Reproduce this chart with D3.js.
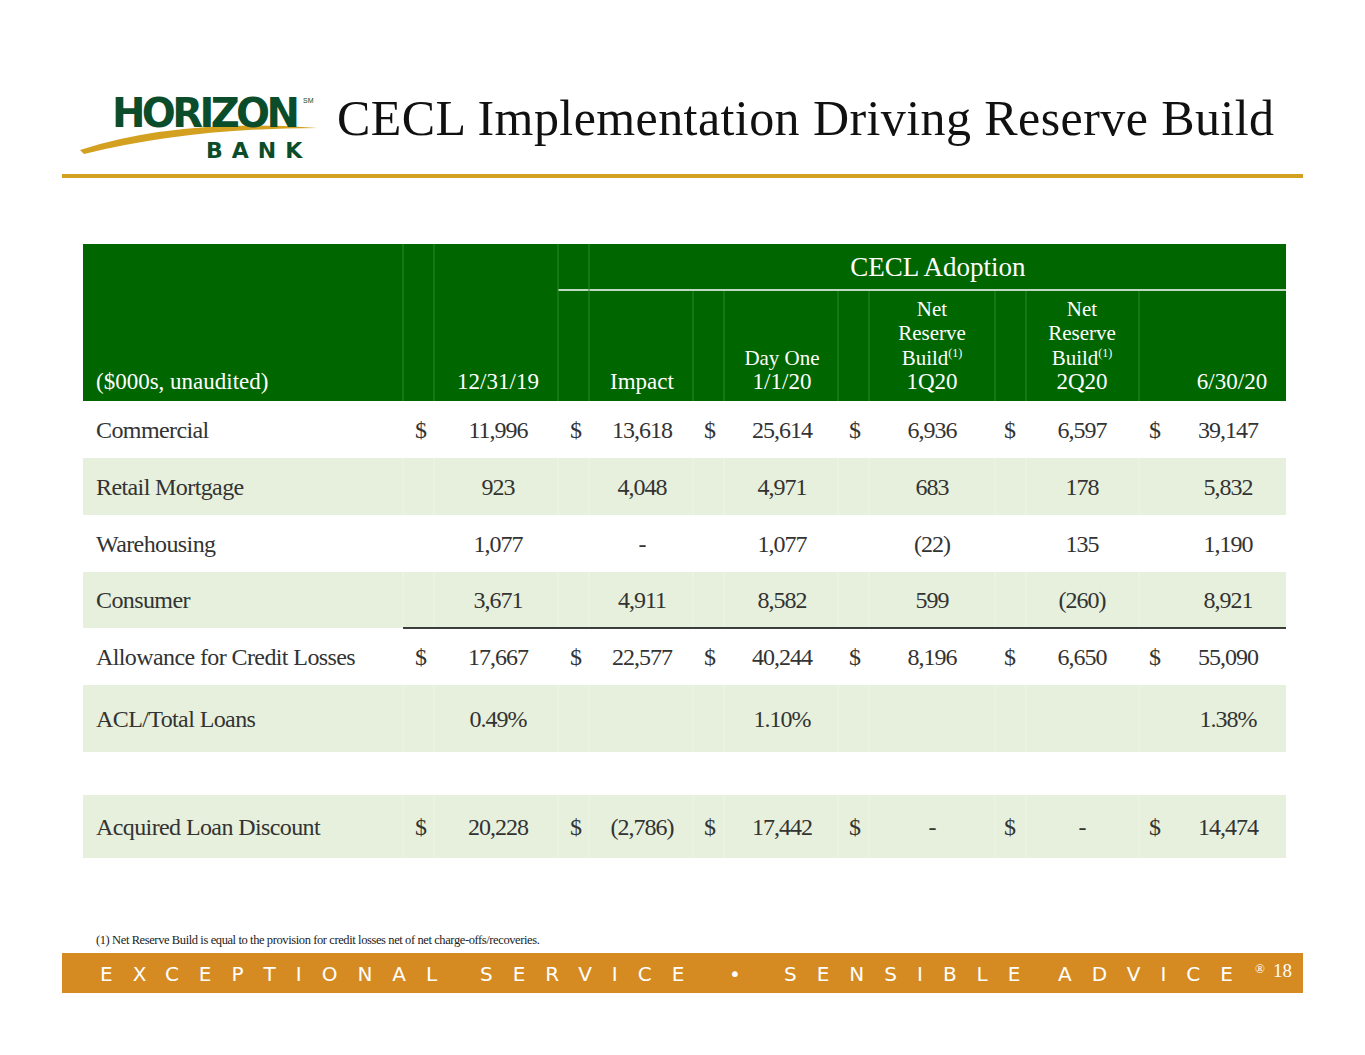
<!DOCTYPE html>
<html><head><meta charset="utf-8">
<script src="https://cdn.jsdelivr.net/npm/d3@7"></script>
<style>body{margin:0;background:#fff}</style></head>
<body><div id="chart"></div>
<script>
const GREEN = "#006600", LIGHT = "#E6F0DC", GOLD = "#D4A020", ORANGE = "#D58B22";

const columns = ["12/31/19", "Impact", "Day One 1/1/20", "Net Reserve Build 1Q20", "Net Reserve Build 2Q20", "6/30/20"];
const rowLabels = ["Commercial", "Retail Mortgage", "Warehousing", "Consumer", "Allowance for Credit Losses", "ACL/Total Loans", "", "Acquired Loan Discount"];
const rowValues = [
  ["11,996", "13,618", "25,614", "6,936", "6,597", "39,147"],
  ["923", "4,048", "4,971", "683", "178", "5,832"],
  ["1,077", "-", "1,077", "(22)", "135", "1,190"],
  ["3,671", "4,911", "8,582", "599", "(260)", "8,921"],
  ["17,667", "22,577", "40,244", "8,196", "6,650", "55,090"],
  ["0.49%", "", "1.10%", "", "", "1.38%"],
  ["", "", "", "", "", ""],
  ["20,228", "(2,786)", "17,442", "-", "-", "14,474"]
];
const dollarRows = [true, false, false, false, true, false, false, true];
const rowTops = [401, 458, 515, 572, 628, 685, 752, 795, 858];
const footerWords = [["EXCEPTIONAL", 100], ["SERVICE", 480], ["•", 729], ["SENSIBLE", 784], ["ADVICE", 1058]];

const W = 1365, H = 1055;
const svg = d3.select("#chart").append("svg").attr("width", W).attr("height", H);
const serif = "'Liberation Serif', 'DejaVu Serif', serif";

// logo
const logo = svg.append("g");
logo.append("path").attr("d", "M80,150 Q180,118 318,128 Q190,128 84,154 Z").attr("fill", GOLD);
logo.append("text").attr("x", 112).attr("y", 127).attr("font-family", "'DejaVu Sans', sans-serif")
  .attr("font-weight", "bold").attr("font-size", 40).attr("fill", "#0B4D2A").attr("textLength", 188).text("HORIZON");
logo.append("text").attr("x", 303).attr("y", 103).attr("font-size", 7).attr("fill", "#0B4D2A").attr("font-family", "sans-serif").text("SM");
logo.append("text").attr("x", 206).attr("y", 158).attr("font-family", "'DejaVu Sans', sans-serif")
  .attr("font-weight", "bold").attr("font-size", 22).attr("fill", "#0B4D2A").attr("letter-spacing", 9).text("BANK");

svg.append("text").attr("x", 337).attr("y", 135).attr("font-family", serif).attr("font-size", 50)
  .attr("fill", "#111").attr("textLength", 937).text("CECL Implementation Driving Reserve Build");
svg.append("rect").attr("x", 62).attr("y", 174).attr("width", 1241).attr("height", 4).attr("fill", GOLD);

// columns
const x0 = 83, x1 = 1286;
const valX = d3.scaleOrdinal().domain(columns).range([498, 642, 782, 932, 1082, 1228]);
const dolX = d3.scaleOrdinal().domain(columns).range([421, 576, 710, 855, 1010, 1155]);
const seps = [403, 434, 558, 589, 693, 724, 838, 869, 995, 1026, 1139];

// header
svg.append("rect").attr("x", x0).attr("y", 244).attr("width", x1 - x0).attr("height", 157).attr("fill", GREEN);
svg.append("line").attr("x1", 558).attr("x2", x1).attr("y1", 290).attr("y2", 290).attr("stroke", "#fff").attr("stroke-width", 1.5);
svg.selectAll(".hsep").data(seps).join("line")
  .attr("x1", d => d).attr("x2", d => d).attr("y1", d => d > 589 ? 291 : 244).attr("y2", 401)
  .attr("stroke", "#2a8a2a").attr("stroke-width", 1);
svg.append("text").attr("x", 938).attr("y", 276).attr("text-anchor", "middle").attr("font-family", serif)
  .attr("font-size", 27).attr("fill", "#fff").text("CECL Adoption");

const hdr = [
  ["12/31/19"], ["Impact"], ["Day One", "1/1/20"], ["Net", "Reserve", "Build(1)", "1Q20"], ["Net", "Reserve", "Build(1)", "2Q20"], ["6/30/20"]
];
columns.forEach((c, i) => {
  const lines = hdr[i];
  lines.forEach((l, j) => {
    const y = 389 - (lines.length - 1 - j) * 24.5;
    const t = svg.append("text").attr("x", valX(c) + (i === 5 ? 4 : 0)).attr("y", y).attr("text-anchor", "middle")
      .attr("font-family", serif).attr("font-size", j === lines.length - 1 ? 23 : 21).attr("fill", "#fff");
    if (l.endsWith("(1)")) {
      t.text(l.replace("(1)", ""));
      t.append("tspan").attr("font-size", 12).attr("dy", -8).text("(1)");
    } else t.text(l);
  });
});
svg.append("text").attr("x", 96).attr("y", 389).attr("font-family", serif).attr("font-size", 23)
  .attr("fill", "#fff").text("($000s, unaudited)");

// body rows
rowLabels.forEach((lab, r) => {
  const top = rowTops[r], h = rowTops[r + 1] - top, cy = top + h / 2 + 8;
  svg.append("rect").attr("x", x0).attr("y", top).attr("width", x1 - x0).attr("height", h)
    .attr("fill", r % 2 === 1 ? LIGHT : "#fff");
  if (r % 2 === 1) {
    svg.selectAll(null).data(seps).join("line").attr("x1", d => d).attr("x2", d => d)
      .attr("y1", top).attr("y2", top + h).attr("stroke", "#eef5e8").attr("stroke-width", 1);
  }
  svg.append("text").attr("x", 96).attr("y", cy).attr("font-family", serif).attr("font-size", 24)
    .attr("fill", "#333").attr("letter-spacing", -0.6).text(lab);
  columns.forEach((c, i) => {
    if (dollarRows[r]) svg.append("text").attr("x", dolX(c)).attr("y", cy).attr("text-anchor", "middle")
      .attr("font-family", serif).attr("font-size", 24).attr("fill", "#333").text("$");
    svg.append("text").attr("x", valX(c)).attr("y", cy).attr("text-anchor", "middle").attr("font-family", serif)
      .attr("font-size", 24).attr("fill", "#333").attr("letter-spacing", -1).text(rowValues[r][i]);
  });
});
svg.append("line").attr("x1", 403).attr("x2", x1).attr("y1", 628).attr("y2", 628).attr("stroke", "#000").attr("stroke-width", 1.5);

// footnote
svg.append("text").attr("x", 96).attr("y", 944).attr("font-family", serif).attr("font-size", 12.5)
  .attr("fill", "#222").attr("letter-spacing", -0.4)
  .text("(1) Net Reserve Build is equal to the provision for credit losses net of net charge-offs/recoveries.");

// footer
svg.append("rect").attr("x", 62).attr("y", 953).attr("width", 1241).attr("height", 40).attr("fill", ORANGE);
svg.selectAll(".fw").data(footerWords).join("text")
  .attr("x", d => d[1]).attr("y", 981).attr("font-family", "'DejaVu Sans', sans-serif").attr("font-size", 20)
  .attr("fill", "#fff").attr("letter-spacing", 20).text(d => d[0]);
svg.append("text").attr("x", 1255).attr("y", 973).attr("font-family", serif).attr("font-size", 13).attr("fill", "#fff").text("®");
svg.append("text").attr("x", 1273).attr("y", 977).attr("font-family", serif).attr("font-size", 19).attr("fill", "#fff").text("18");
</script></body></html>
